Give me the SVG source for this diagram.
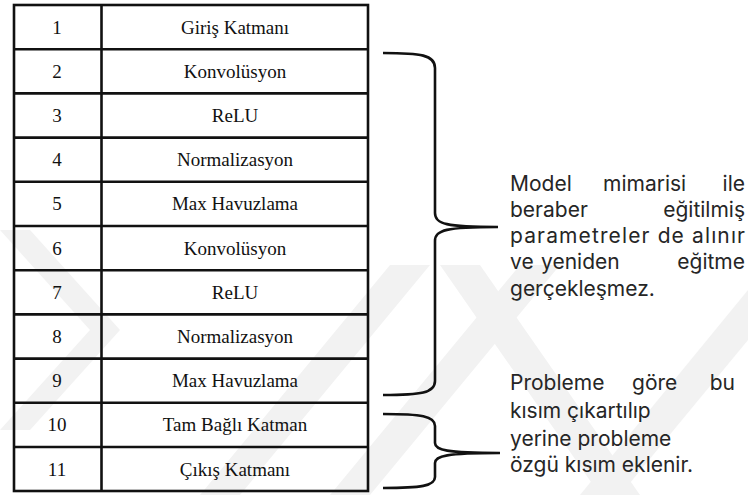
<svg xmlns="http://www.w3.org/2000/svg" width="748" height="495" viewBox="0 0 748 495">
  <style>
    .grid { stroke: #111; stroke-width: 2.6; fill: none; }
    .cell { font-family: "Liberation Serif", "Times New Roman", serif; font-size: 19px; fill: #111; text-anchor: middle; }
    .note { font-family: Inter, "Liberation Sans", sans-serif; font-size: 21px; fill: #262626; }
    .brace { stroke: #111; stroke-width: 2.6; fill: none; stroke-linecap: butt; }
    .wm { fill: #f2f2f2; }
  </style>
  <rect width="748" height="495" fill="#fff"/>

  <!-- faint background pattern -->
  <g id="background-pattern">
    <polygon class="wm" points="0,230 30,230 120,330 30,430 0,430 90,330"/>
    <polygon class="wm" points="200,495 240,495 430,265 390,265"/>
    <polygon class="wm" points="330,495 370,495 560,265 520,265"/>
    <polygon class="wm" points="580,495 620,495 748,340 748,290"/>
    <polygon class="wm" points="440,265 480,265 640,495 600,495"/>
  </g>

  <!-- layer table -->
  <g id="layer-table">
    <rect class="grid" x="14" y="5" width="354" height="486"/>
    <line class="grid" x1="101.5" y1="5" x2="101.5" y2="491"/>
    <line class="grid" x1="14" y1="49.2" x2="368" y2="49.2"/>
    <line class="grid" x1="14" y1="93.4" x2="368" y2="93.4"/>
    <line class="grid" x1="14" y1="137.6" x2="368" y2="137.6"/>
    <line class="grid" x1="14" y1="181.8" x2="368" y2="181.8"/>
    <line class="grid" x1="14" y1="226" x2="368" y2="226"/>
    <line class="grid" x1="14" y1="270.2" x2="368" y2="270.2"/>
    <line class="grid" x1="14" y1="314.4" x2="368" y2="314.4"/>
    <line class="grid" x1="14" y1="358.6" x2="368" y2="358.6"/>
    <line class="grid" x1="14" y1="402.8" x2="368" y2="402.8"/>
    <line class="grid" x1="14" y1="447" x2="368" y2="447"/>
  </g>

  <g id="row-1"><text class="cell" x="57" y="33.5">1</text><text class="cell" x="235" y="33.5">Giriş Katmanı</text></g>
  <g id="row-2"><text class="cell" x="57" y="77.7">2</text><text class="cell" x="235" y="77.7">Konvolüsyon</text></g>
  <g id="row-3"><text class="cell" x="57" y="121.9">3</text><text class="cell" x="235" y="121.9">ReLU</text></g>
  <g id="row-4"><text class="cell" x="57" y="166.1">4</text><text class="cell" x="235" y="166.1">Normalizasyon</text></g>
  <g id="row-5"><text class="cell" x="57" y="210.3">5</text><text class="cell" x="235" y="210.3">Max Havuzlama</text></g>
  <g id="row-6"><text class="cell" x="57" y="254.5">6</text><text class="cell" x="235" y="254.5">Konvolüsyon</text></g>
  <g id="row-7"><text class="cell" x="57" y="298.7">7</text><text class="cell" x="235" y="298.7">ReLU</text></g>
  <g id="row-8"><text class="cell" x="57" y="342.9">8</text><text class="cell" x="235" y="342.9">Normalizasyon</text></g>
  <g id="row-9"><text class="cell" x="57" y="387.1">9</text><text class="cell" x="235" y="387.1">Max Havuzlama</text></g>
  <g id="row-10"><text class="cell" x="57" y="431.3">10</text><text class="cell" x="235" y="431.3">Tam Bağlı Katman</text></g>
  <g id="row-11"><text class="cell" x="57" y="475.5">11</text><text class="cell" x="235" y="475.5">Çıkış Katmanı</text></g>

  <!-- braces -->
  <g id="connectors">
    <path class="brace" d="M383,53 C421,53 435,55 435,68 L435,213 C435,224 446,227 498,227 C446,227 435,230 435,241 L435,381 C435,393 421,395 383,395"/>
    <path class="brace" d="M383,414 C421,414 435,416 435,426 L435,443 C435,450 446,453 500,453 C446,453 435,456 435,463 L435,477 C435,486 421,488 383,488"/>
  </g>

  <!-- notes -->
  <g id="note-frozen">
    <text class="note" y="191"><tspan x="510">Model</tspan><tspan x="603">mimarisi</tspan><tspan x="745" text-anchor="end">ile</tspan></text>
    <text class="note" y="217"><tspan x="510">beraber</tspan><tspan x="745" text-anchor="end">eğitilmiş</tspan></text>
    <text class="note" x="510" y="243" textLength="235" lengthAdjust="spacing">parametreler de alınır</text>
    <text class="note" y="269"><tspan x="510">ve</tspan><tspan x="541">yeniden</tspan><tspan x="745" text-anchor="end">eğitme</tspan></text>
    <text class="note" x="510" y="296">gerçekleşmez.</text>
  </g>
  <g id="note-replaced">
    <text class="note" y="390"><tspan x="510">Probleme</tspan><tspan x="632">göre</tspan><tspan x="735" text-anchor="end">bu</tspan></text>
    <text class="note" x="510" y="418">kısım çıkartılıp</text>
    <text class="note" x="510" y="446">yerine probleme</text>
    <text class="note" x="510" y="472">özgü kısım eklenir.</text>
  </g>
</svg>
